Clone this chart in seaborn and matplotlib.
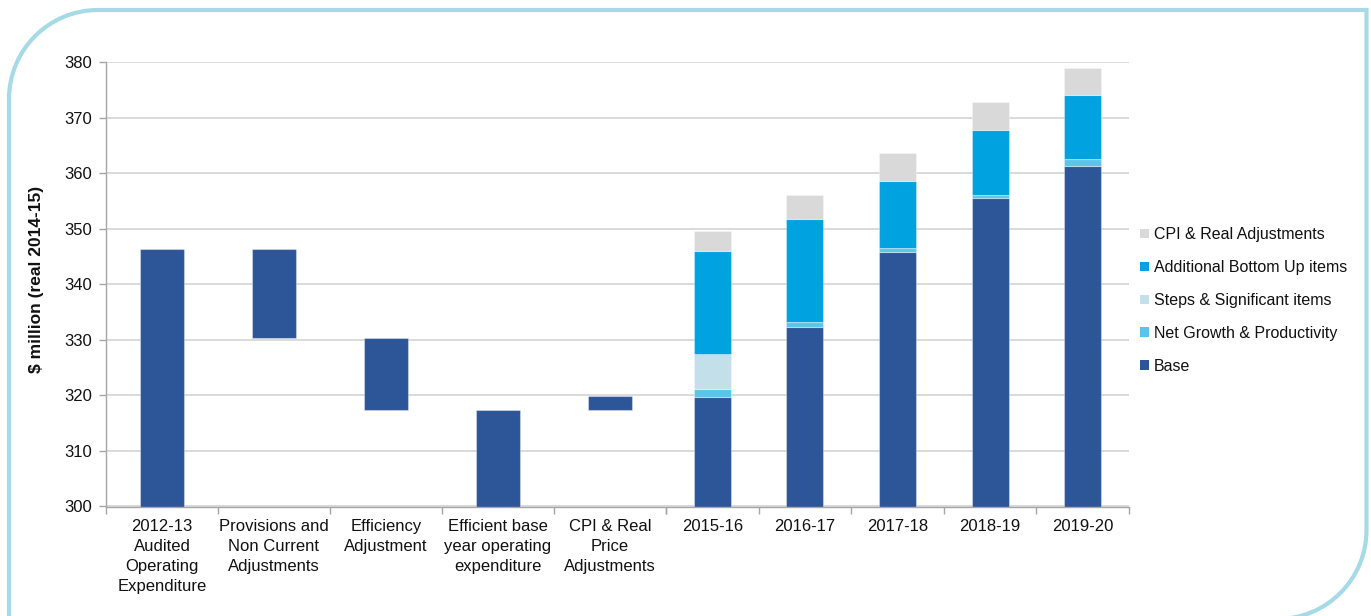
import numpy as np
import pandas as pd
import matplotlib
matplotlib.use("Agg")
import matplotlib.pyplot as plt
from matplotlib.patches import Patch, PathPatch
from matplotlib.path import Path
import seaborn as sns

# ---------------- data ----------------
wf_labels = ["2012-13\nAudited\nOperating\nExpenditure",
             "Provisions and\nNon Current\nAdjustments",
             "Efficiency\nAdjustment",
             "Efficient base\nyear operating\nexpenditure",
             "CPI & Real\nPrice\nAdjustments"]
wf_from = [0.0, 346.3, 330.4, 0.0, 317.4]
wf_to = [346.3, 330.4, 317.4, 317.4, 319.9]

years = ["2015-16", "2016-17", "2017-18", "2018-19", "2019-20"]
base = [319.7, 332.3, 345.9, 355.5, 361.4]
net_growth = [1.5, 0.9, 0.6, 0.6, 1.1]
steps = [6.2, 0.0, 0.0, 0.0, 0.0]
additional = [18.7, 18.6, 12.1, 11.7, 11.7]
cpi_real = [3.5, 4.3, 5.0, 5.1, 4.8]

series_names = ["Base", "Net Growth & Productivity", "Steps & Significant items",
                "Additional Bottom Up items", "CPI & Real Adjustments"]
series_vals = [base, net_growth, steps, additional, cpi_real]
series_colors = ["#2C5697", "#5BC5E8", "#C3DFEA", "#00A2DF", "#D9D9D9"]

yticks = [300, 310, 320, 330, 340, 350, 360, 370, 380]

# ---------------- style ----------------
sns.set_theme(style="white")
plt.rcParams["font.family"] = ["Liberation Sans", "DejaVu Sans"]
plt.rcParams["text.color"] = "#111111"

W, H = 1371, 616
fig = plt.figure(figsize=(W / 100, H / 100), dpi=100)
fig.patch.set_facecolor("white")


def px_axes(x0, x1, ytop, ybot, **kw):
    return fig.add_axes([x0 / W, 1 - ybot / H, (x1 - x0) / W, (ybot - ytop) / H], **kw)


# background frame (rounded top-left and bottom-right corners)
bg = fig.add_axes([0, 0, 1, 1], zorder=-5)
bg.set_xlim(0, W)
bg.set_ylim(H, 0)
bg.axis("off")
r = 89
k = 0.5523 * r
xl, xr, yt, yb = 9, 1366.5, 10, 619
verts = [(xl + r, yt), (xr, yt), (xr, yb - r),
         (xr, yb - r + k), (xr - r + k, yb), (xr - r, yb),
         (xl, yb), (xl, yt + r),
         (xl, yt + r - k), (xl + r - k, yt), (xl + r, yt)]
codes = [Path.MOVETO, Path.LINETO, Path.LINETO,
         Path.CURVE4, Path.CURVE4, Path.CURVE4,
         Path.LINETO, Path.LINETO,
         Path.CURVE4, Path.CURVE4, Path.CURVE4]
bg.add_patch(PathPatch(Path(verts, codes), facecolor="none", edgecolor="#A6DAE7",
                       lw=3.0, clip_on=False))

ytop_px, ybot_px = 62.3, 506.5
axl = px_axes(106, 666, ytop_px, ybot_px)
axr = px_axes(666, 1129, ytop_px, ybot_px)

edge = (1, 1, 1, 0.35)

# ---------------- waterfall ----------------
wf_low = np.minimum(wf_from, wf_to)
wf_height = np.abs(np.array(wf_to) - np.array(wf_from))
df_wf = pd.DataFrame({"cat": wf_labels, "h": wf_height})
sns.barplot(data=df_wf, x="cat", y="h", order=wf_labels, bottom=wf_low,
            color=series_colors[0], saturation=1, width=0.4, errorbar=None,
            edgecolor=edge, linewidth=0.8, ax=axl)

# ---------------- stacked bars ----------------
cum = np.zeros(len(years))
for name, vals, col in zip(series_names, series_vals, series_colors):
    d = pd.DataFrame({"year": years, "v": vals})
    sns.barplot(data=d, x="year", y="v", order=years, bottom=cum.copy(),
                color=col, saturation=1, width=0.4, errorbar=None,
                edgecolor=edge, linewidth=0.8, ax=axr)
    cum = cum + np.array(vals)

# ---------------- axes styling ----------------
for ax in (axl, axr):
    ax.set_ylim(300, 380)
    ax.set_xlim(-0.5, 4.5)
    ax.set_facecolor("none")
    ax.set_yticks(yticks)
    ax.grid(axis="y", color="#D4D4D4", lw=1.2, zorder=0)
    ax.set_axisbelow(True)
    ax.set_xlabel("")
    ax.set_ylabel("")
    for s in ("top", "right"):
        ax.spines[s].set_visible(False)
    ax.spines["bottom"].set_color("#A6A6A6")
    ax.spines["bottom"].set_linewidth(1.0)
    ax.set_xticks(np.arange(-0.5, 5.0, 1.0), minor=True)
    ax.tick_params(axis="x", which="minor", direction="out", length=5,
                   color="#A6A6A6", width=1.0, bottom=True)
    ax.tick_params(axis="x", which="major", length=0, pad=9, labelsize=12,
                   labelcolor="#111111")

axl.spines["left"].set_color("#A6A6A6")
axl.spines["left"].set_linewidth(1.0)
axl.tick_params(axis="y", direction="out", length=5, color="#A6A6A6", width=1.0,
                pad=5, labelsize=12, labelcolor="#111111", left=True)
axr.spines["left"].set_visible(False)
axr.tick_params(axis="y", left=False, labelleft=False)

for lab in axl.get_xticklabels():
    lab.set_linespacing(1.42)

fig.text(37 / W, 1 - 279 / H, "$ million (real 2014-15)", rotation=90,
         ha="center", va="center", fontsize=12.5, fontweight="bold", color="#111111")

# ---------------- legend ----------------
handles = [Patch(facecolor=c, edgecolor="none") for c in series_colors][::-1]
labels = series_names[::-1]
fig.legend(handles, labels, loc="center left", bbox_to_anchor=(1140 / W, 1 - 300.5 / H),
           frameon=False, fontsize=11.5, handlelength=0.55, handleheight=0.55,
           handletextpad=0.3, labelspacing=1.12, borderpad=0, borderaxespad=0)

fig.savefig("out.png", dpi=100, facecolor="white")
